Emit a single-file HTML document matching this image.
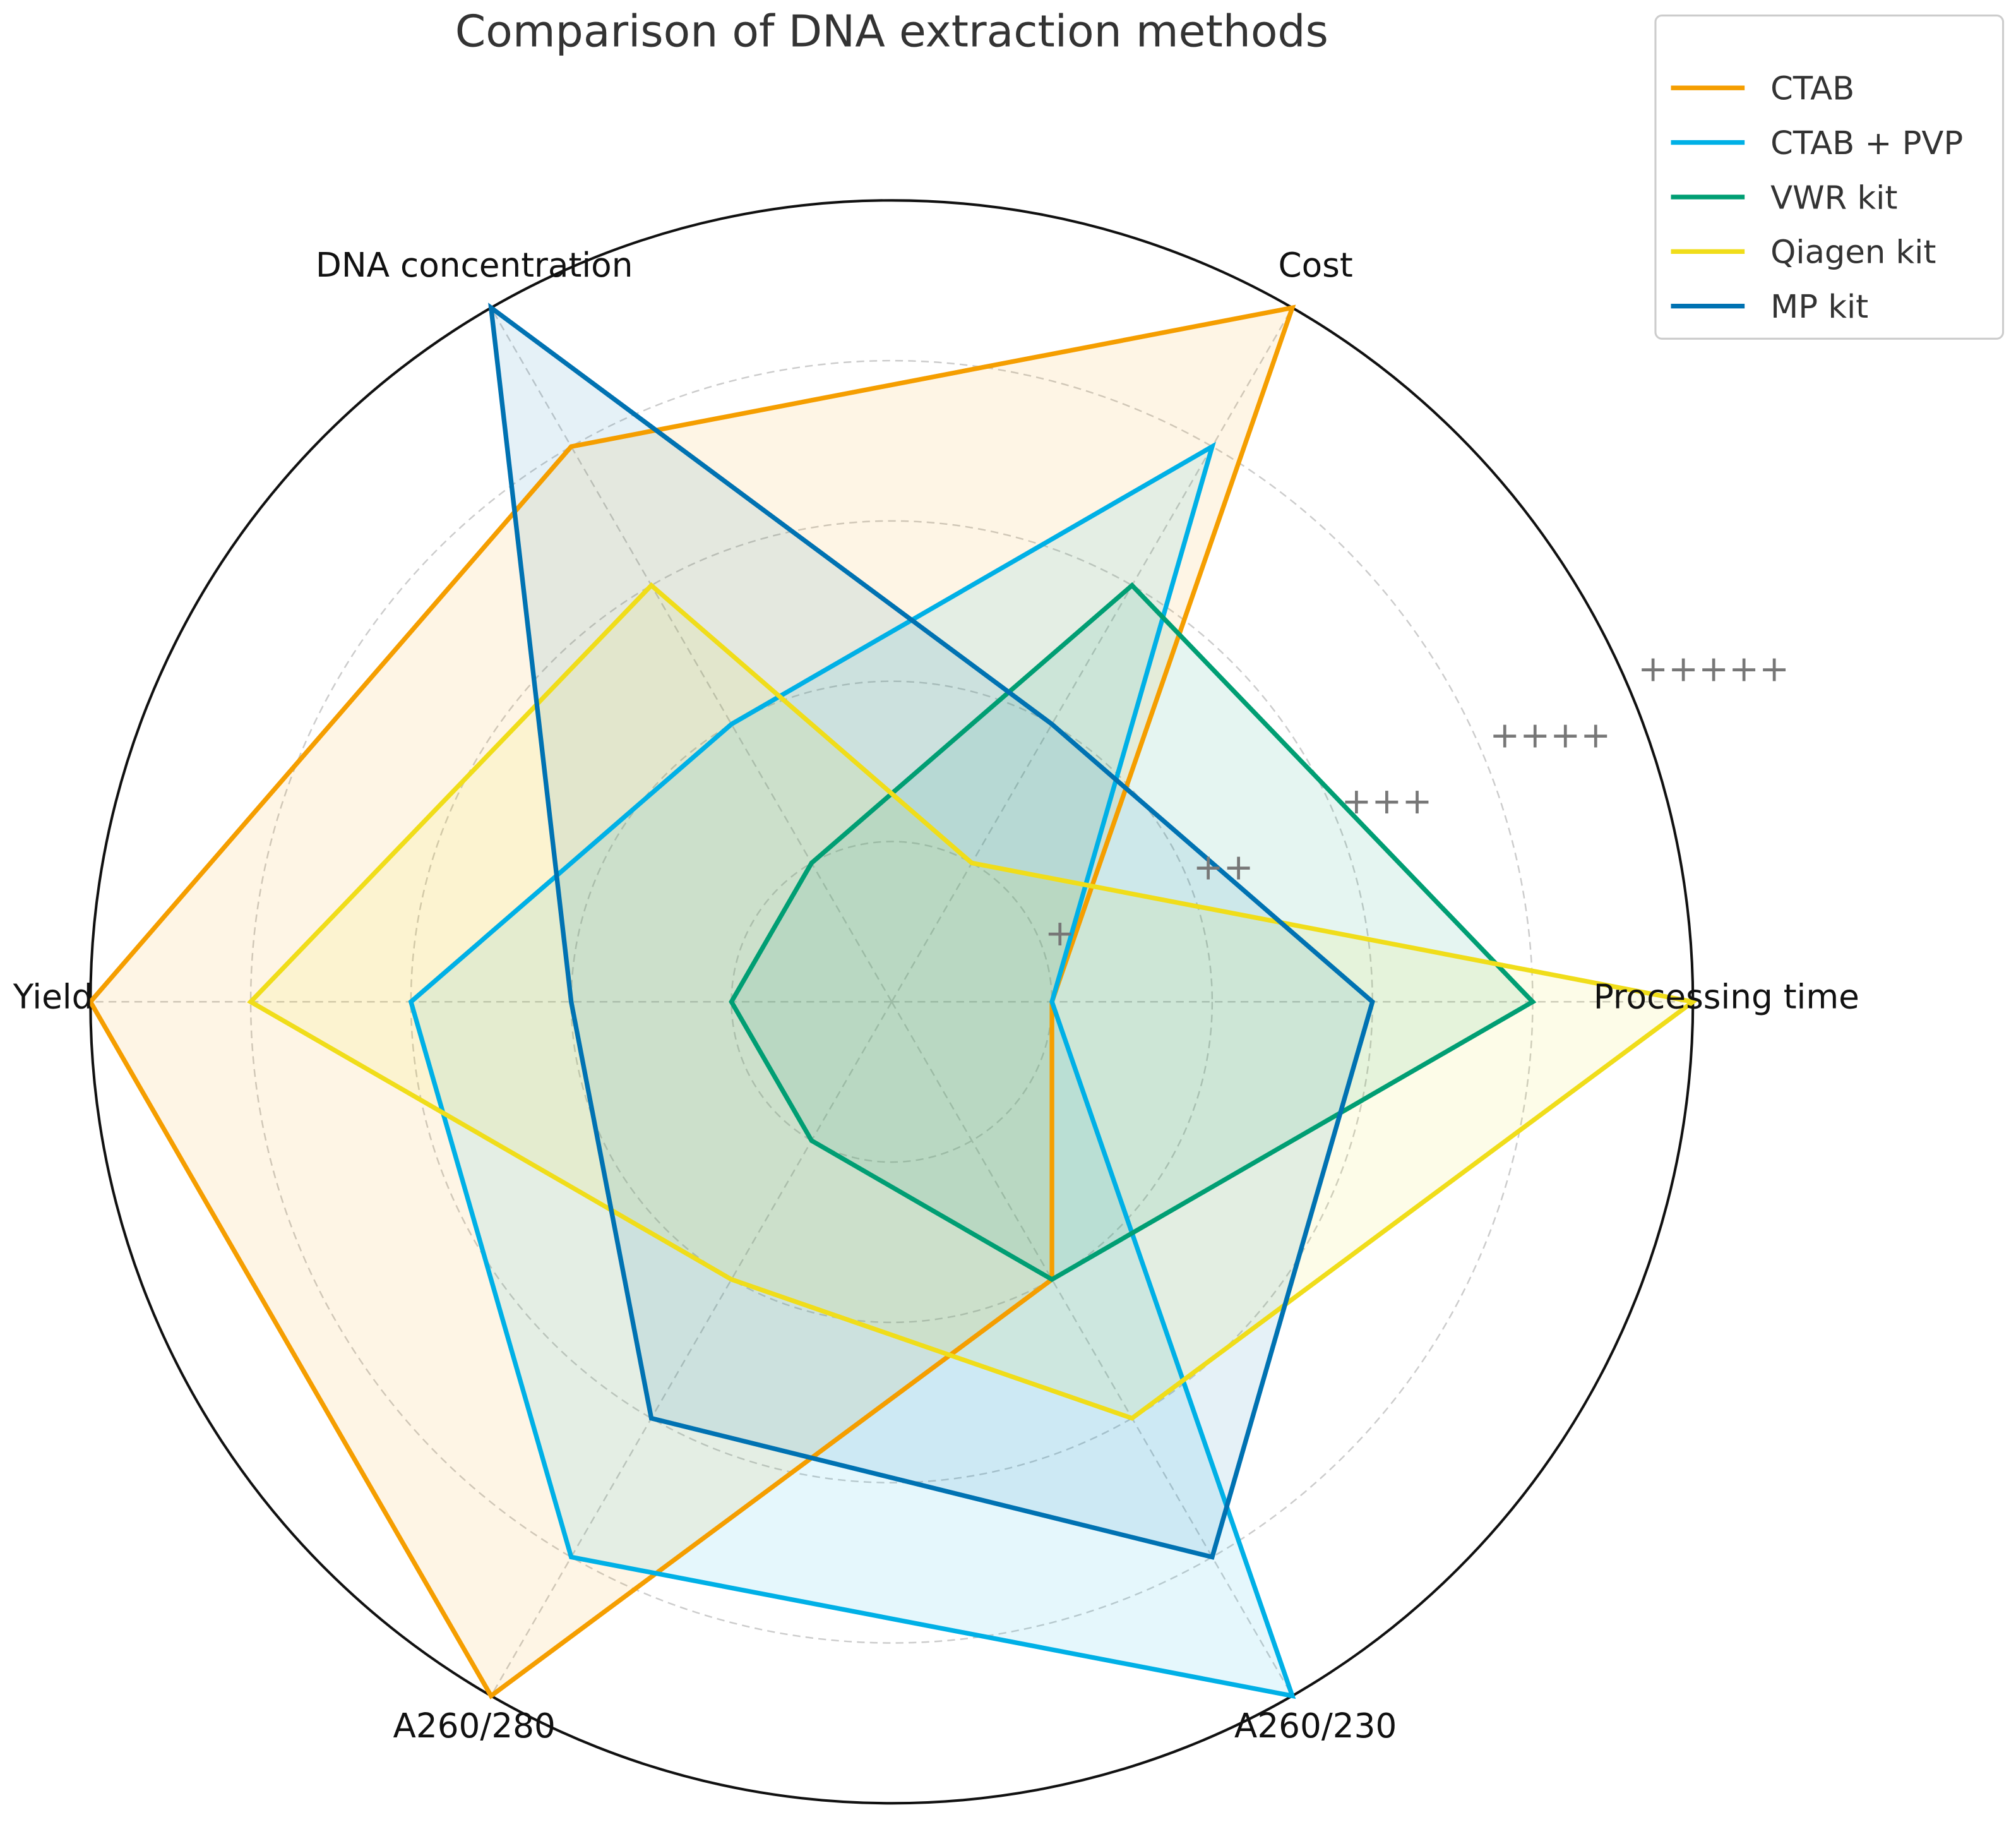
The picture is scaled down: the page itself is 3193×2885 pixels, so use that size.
<!DOCTYPE html>
<html><head><meta charset="utf-8"><style>
html,body{margin:0;padding:0;background:#fff;}
svg{display:block;font-family:"DejaVu Sans","Liberation Sans",sans-serif;}
</style></head><body>
<svg id="chart" width="3193" height="2885" viewBox="0 0 1560 1409.5" xmlns="http://www.w3.org/2000/svg">
<text x="690" y="36" text-anchor="middle" font-size="34" fill="#333">Comparison of DNA extraction methods</text>
<g id="grid"></g>
<g id="series"></g>
<g id="labels"></g>
<g id="legend"></g>
</svg>
<script>
const categories = ["Processing time","Cost","DNA concentration","Yield","A260/280","A260/230"];
const seriesNames = ["CTAB","CTAB + PVP","VWR kit","Qiagen kit","MP kit"];
const ctabValues = [1,5,4,5,5,2];
const ctabPvpValues = [1,4,2,3,4,5];
const vwrValues = [4,3,1,1,1,2];
const qiagenValues = [5,1,3,4,2,3];
const mpValues = [3,2,5,2,3,4];
const tickLabels = ["+","++","+++","++++","+++++"];
const colors = ["#f59e00","#00b0e6","#009e73","#f0dd1a","#0072b2"];
const allValues = [ctabValues, ctabPvpValues, vwrValues, qiagenValues, mpValues];

const NS = "http://www.w3.org/2000/svg";
const cx = 690, cy = 775, R = 620, maxV = 5;
function rScale(v){ return v / maxV * R; }
function angle(i){ return i * 2 * Math.PI / categories.length; }
function pt(i, v){ const a = angle(i), r = rScale(v); return [cx + r*Math.cos(a), cy - r*Math.sin(a)]; }
function mk(tag, attrs, parent){ const e = document.createElementNS(NS, tag); for (const k in attrs) e.setAttribute(k, attrs[k]); parent.appendChild(e); return e; }

const grid = document.getElementById('grid');
for (let t = 1; t <= tickLabels.length; t++) {
  const c = mk('circle', {cx, cy, r: rScale(t), fill: 'none', stroke: t === maxV ? '#111' : '#ccc', 'stroke-width': t === maxV ? 2 : 1.2, 'stroke-dasharray': t === maxV ? 'none' : '6,4'}, grid);
  
  
}
categories.forEach((c, i) => {
  const [x, y] = pt(i, maxV);
  const l = mk('line', {x1: cx, y1: cy, x2: x, y2: y, stroke: '#ccc', 'stroke-width': 1.2, 'stroke-dasharray': '6,4'}, grid);
  
  
});

const sg = document.getElementById('series');
allValues.forEach((vals, s) => {
  const pts = vals.map((v, i) => pt(i, v).join(',')).join(' ');
  const f = mk('polygon', {points: pts, fill: colors[s], 'fill-opacity': 0.1, stroke: 'none'}, sg);
  
  
});
allValues.forEach((vals, s) => {
  const pts = vals.map((v, i) => pt(i, v).join(',')).join(' ');
  const p = mk('polygon', {points: pts, fill: 'none', stroke: colors[s], 'stroke-width': 3.6, 'stroke-linejoin': 'miter'}, sg);
  
  
});

const lg = document.getElementById('labels');
const tickA = 22 * Math.PI / 180;
tickLabels.forEach((t, k) => {
  const r = rScale(k + 1) * 1.1 + 4;
  const e = mk('text', {x: cx + r*Math.cos(tickA), y: cy - r*Math.sin(tickA) + 9, 'text-anchor': 'middle', 'font-size': 28, fill: '#777'}, lg);
  e.textContent = t;
  
  
});
const labelPos = [[1233,784,'start'],[1018,218,'middle'],[367,218,'middle'],[72,784,'end'],[367,1348,'middle'],[1018,1348,'middle']];
categories.forEach((c, i) => {
  const e = mk('text', {x: labelPos[i][0], y: labelPos[i][1] - 4, 'text-anchor': labelPos[i][2], 'font-size': 26, fill: '#111'}, lg);
  e.textContent = c;
  
  
});

const leg = document.getElementById('legend');
const box = mk('rect', {x: 1281, y: 12, width: 269, height: 250, rx: 5, fill: '#fff', 'fill-opacity': 0.85, stroke: '#ccc', 'stroke-width': 1.5}, leg);


seriesNames.forEach((n, s) => {
  const y = 68 + s * 42.2;
  const l = mk('line', {x1: 1293, y1: y, x2: 1350, y2: y, stroke: colors[s], 'stroke-width': 3.6}, leg);
  
  
  const t = mk('text', {x: 1370, y: y + 9, 'font-size': 25, fill: '#333'}, leg);
  t.textContent = n;
  
  
});
</script>
</body></html>
